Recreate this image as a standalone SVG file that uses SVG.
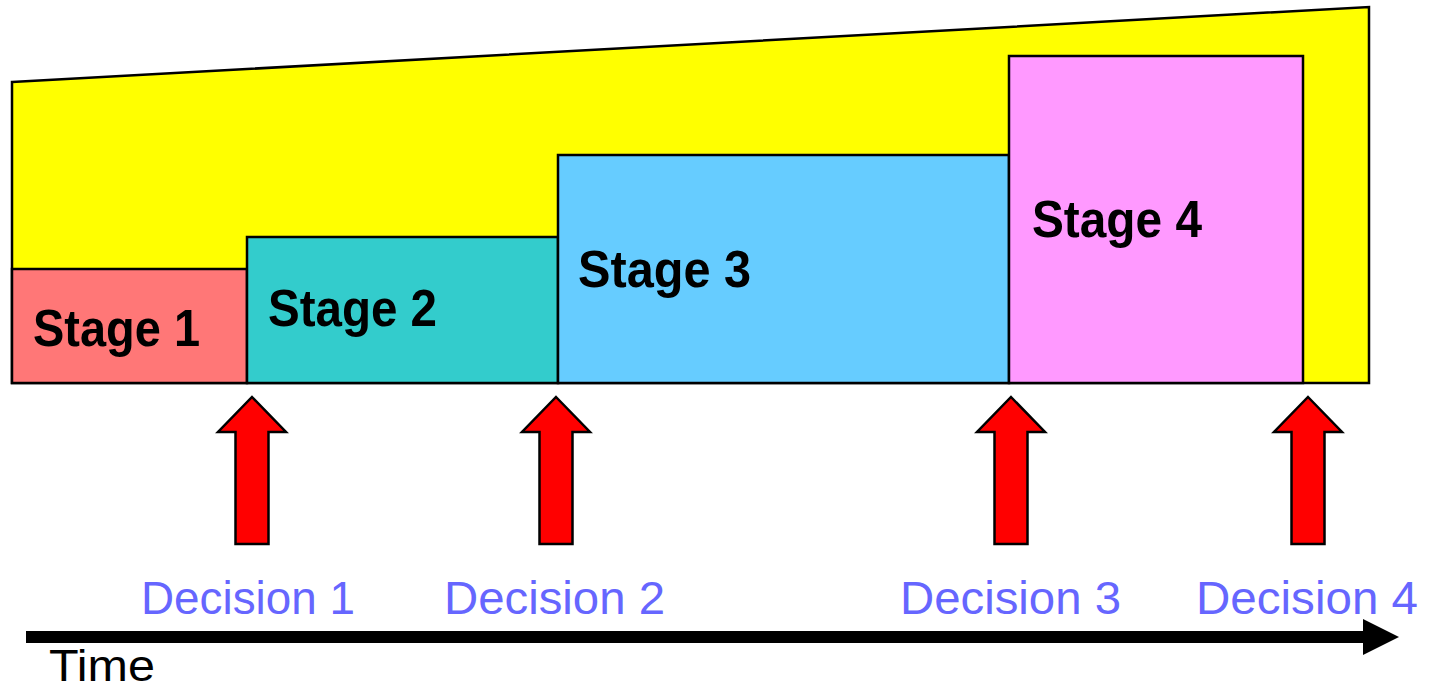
<svg xmlns="http://www.w3.org/2000/svg" width="1432" height="691" viewBox="0 0 1432 691">
  <defs>
    <style>
      .box { stroke: #000; stroke-width: 2.5; stroke-linejoin: miter; }
      .stage { font-family: "Liberation Sans", Arial, sans-serif; font-weight: bold; font-size: 52px; fill: #000; }
      .decision { font-family: "Liberation Sans", Arial, sans-serif; font-size: 46px; fill: #6666FF; }
      .time { font-family: "Liberation Sans", Arial, sans-serif; font-size: 44px; fill: #000; }
      .up { fill: #FF0000; stroke: #000; stroke-width: 2.5; }
    </style>
    <!-- upward block arrow, tip at origin -->
    <path id="upArrow" d="M0,0 L34,35 L16.5,35 L16.5,147 L-16.5,147 L-16.5,35 L-34,35 Z"/>
  </defs>
  <rect width="1432" height="691" fill="#FFFFFF"/>

  <!-- growing envelope behind the stages -->
  <g id="envelope">
    <polygon class="box" fill="#FFFF00" points="12,82 1369,7 1369,383 12,383"/>
  </g>

  <g id="stage1">
    <rect class="box" fill="#FF7777" x="12" y="269" width="235" height="114"/>
    <text class="stage" x="33" y="346" textLength="167" lengthAdjust="spacingAndGlyphs">Stage 1</text>
  </g>
  <g id="stage2">
    <rect class="box" fill="#33CCCC" x="247" y="237" width="311" height="146"/>
    <text class="stage" x="268" y="326" textLength="169" lengthAdjust="spacingAndGlyphs">Stage 2</text>
  </g>
  <g id="stage3">
    <rect class="box" fill="#66CCFF" x="558" y="155" width="451" height="228"/>
    <text class="stage" x="578" y="287" textLength="173" lengthAdjust="spacingAndGlyphs">Stage 3</text>
  </g>
  <g id="stage4">
    <rect class="box" fill="#FF99FF" x="1009" y="56" width="294" height="327"/>
    <text class="stage" x="1032" y="237" textLength="170" lengthAdjust="spacingAndGlyphs">Stage 4</text>
  </g>

  <g id="connectors">
    <use href="#upArrow" class="up" x="252" y="397"/>
    <use href="#upArrow" class="up" x="556" y="397"/>
    <use href="#upArrow" class="up" x="1011" y="397"/>
    <use href="#upArrow" class="up" x="1308" y="397"/>
    <!-- time axis -->
    <rect x="26" y="631" width="1339" height="12" fill="#000"/>
    <polygon points="1363,619 1399,637 1363,655" fill="#000"/>
  </g>

  <g id="decision1"><text class="decision" x="141" y="614" textLength="214" lengthAdjust="spacingAndGlyphs">Decision 1</text></g>
  <g id="decision2"><text class="decision" x="444" y="614" textLength="221" lengthAdjust="spacingAndGlyphs">Decision 2</text></g>
  <g id="decision3"><text class="decision" x="900" y="614" textLength="221" lengthAdjust="spacingAndGlyphs">Decision 3</text></g>
  <g id="decision4"><text class="decision" x="1196" y="614" textLength="222" lengthAdjust="spacingAndGlyphs">Decision 4</text></g>

  <g id="time"><text class="time" x="49" y="681" textLength="106" lengthAdjust="spacingAndGlyphs">Time</text></g>
</svg>
